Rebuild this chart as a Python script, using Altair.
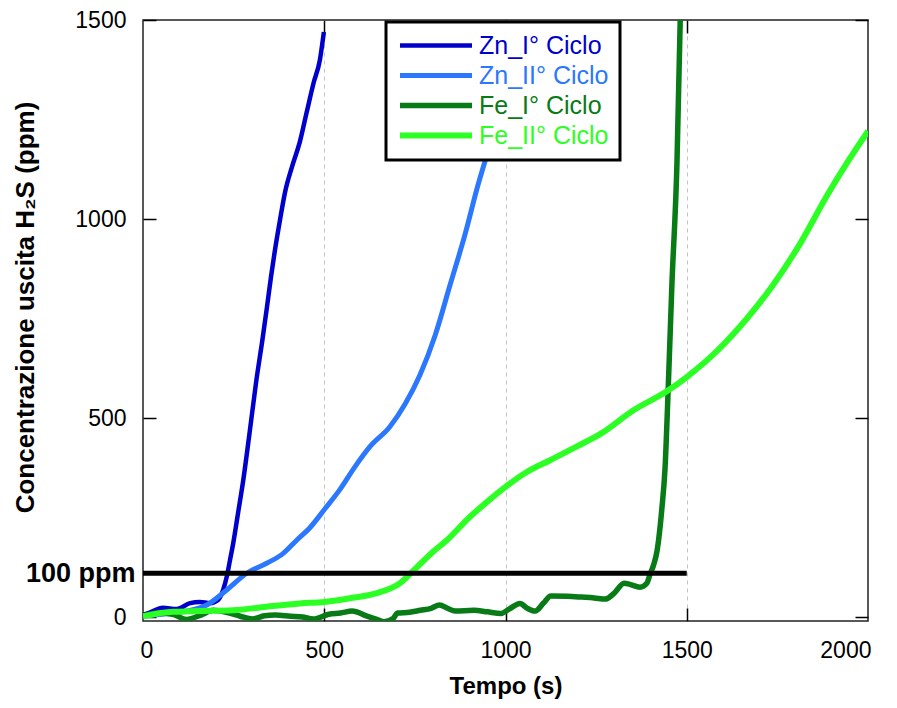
import altair as alt
import pandas as pd

# ---- data ----
series_names = ["Zn_I° Ciclo", "Zn_II° Ciclo", "Fe_I° Ciclo", "Fe_II° Ciclo"]
series_colors = ["#0000CC", "#2B78FF", "#087A16", "#2CFF24"]
series_widths = [4.5, 6, 4.5, 6]

zn1_t = [0, 20, 55, 93, 130, 157, 185, 207, 221, 231, 240, 249, 262, 276, 295, 312, 330, 342, 353, 364, 378, 392, 411, 433, 452, 470, 488, 499]
zn1_v = [5, 12, 23, 20, 35, 38, 35, 43, 68, 101, 143, 186, 260, 340, 470, 590, 700, 779, 854, 922, 998, 1068, 1131, 1195, 1270, 1340, 1400, 1470]

zn2_t = [0, 65, 121, 176, 231, 286, 341, 387, 424, 461, 502, 543, 585, 626, 681, 723, 764, 806, 847, 888, 924, 962]
zn2_v = [3, 8, 15, 30, 68, 110, 135, 160, 193, 225, 272, 320, 378, 428, 478, 535, 608, 708, 834, 960, 1085, 1200]

fe1_t = [0, 47, 85, 120, 160, 194, 230, 268, 302, 335, 365, 407, 440, 470, 513, 545, 577, 618, 645, 665, 690, 702, 735, 765, 795, 818, 840, 861, 913, 950, 988, 1010, 1040, 1060, 1082, 1105, 1125, 1170, 1210, 1245, 1275, 1300, 1327, 1343, 1371, 1390, 1399, 1410, 1418, 1431, 1440, 1449, 1459, 1473, 1482]
fe1_v = [3, 11, 6, -6, 5, 17, 12, 2, -5, 3, 5, 2, 0, -5, 7, 10, 15, 2, -6, -12, -4, 10, 12, 17, 22, 30, 22, 15, 17, 13, 9, 20, 34, 22, 15, 35, 53, 52, 50, 48, 45, 60, 85, 82, 75, 85, 108, 135, 166, 269, 372, 578, 834, 1141, 1500]

fe2_t = [0, 83, 160, 248, 341, 433, 500, 571, 645, 709, 741, 800, 838, 900, 950, 1000, 1060, 1123, 1200, 1262, 1354, 1445, 1500, 1583, 1666, 1738, 1812, 1887, 1942, 2000]
fe2_v = [2, 13, 15, 17, 26, 34, 38, 47, 60, 85, 112, 164, 193, 250, 290, 327, 365, 394, 430, 460, 520, 567, 603, 668, 750, 834, 937, 1059, 1141, 1221]

threshold_value = 110
threshold_end = 1500
threshold_label = "100 ppm"

x_ticks = [0, 500, 1000, 1500, 2000]
y_ticks = [0, 500, 1000, 1500]
x_inner_ticks = [500, 1000, 1500]
y_inner_ticks = [0, 500, 1000, 1500]

x_title = "Tempo (s)"
y_title = "Concentrazione uscita H₂S (ppm)"

# ---- tables ----
frames = []
for name, tt, vv in zip(series_names, [zn1_t, zn2_t, fe1_t, fe2_t], [zn1_v, zn2_v, fe1_v, fe2_v]):
    frames.append(pd.DataFrame({"series": name, "t": tt, "v": vv}))
df = pd.concat(frames, ignore_index=True)
thr_df = pd.DataFrame({"x0": [0], "x1": [threshold_end], "v": [threshold_value]})

FONT = "Liberation Sans"
xs = alt.Scale(domain=[0, 2000], nice=False, zero=False)
ys = alt.Scale(domain=[-10, 1500], nice=False, zero=False)

lines = alt.Chart(df).mark_line(clip=True, interpolate="monotone").encode(
    x=alt.X("t:Q", scale=xs, axis=alt.Axis(
        orient="bottom", values=x_ticks, format="d", ticks=False, domain=False, grid=False,
        labelFontSize=23, labelPadding=18, labelFlush=True, labelFlushOffset=3, labelColor="black",
        title=x_title, titleFontSize=24, titleFontWeight="bold", titlePadding=12, titleColor="black")),
    y=alt.Y("v:Q", scale=ys, axis=alt.Axis(
        orient="left", values=y_ticks, format="d", ticks=False, domain=False, grid=False,
        labelFontSize=23, labelPadding=17, labelColor="black",
        title=y_title, titleFontSize=26, titleFontWeight="bold", titlePadding=36, titleColor="black",
        titleY=287)),
    color=alt.Color("series:N", scale=alt.Scale(domain=series_names, range=series_colors),
                    legend=alt.Legend(orient="none", legendX=243, legendY=2, title=None,
                                      symbolType="stroke", symbolSize=5184, symbolStrokeWidth=5,
                                      clipHeight=25,
                                      labelFontSize=25, labelFont=FONT, labelOffset=4,
                                      labelColor=alt.ExprRef("scale('color', datum.value)"),
                                      padding=11, rowPadding=4,
                                      fillColor="white", strokeColor="black")),
    strokeWidth=alt.StrokeWidth("series:N", scale=alt.Scale(domain=series_names, range=series_widths), legend=None),
)

rule = alt.Chart(thr_df).mark_rule(color="black", strokeWidth=5).encode(
    x=alt.X("x0:Q", scale=xs, axis=None),
    x2="x1:Q",
    y=alt.Y("v:Q", scale=ys, axis=alt.Axis(
        orient="left", values=[threshold_value], labelExpr=f"'{threshold_label}'",
        labelFontSize=27, labelFontWeight="bold", labelPadding=8, labelColor="black",
        ticks=False, domain=False, grid=False, title=None)),
)


def tick_layer(xorient, yorient, with_grid):
    return alt.Chart(df).mark_point(opacity=0).encode(
        x=alt.X("t:Q", scale=xs, axis=alt.Axis(
            orient=xorient, offset=-13, tickSize=13, values=x_inner_ticks, labels=False,
            domain=False, grid=with_grid, gridDash=[4, 4], gridColor="#c4c4c4", gridWidth=1,
            tickColor="black", tickWidth=1.5, title=None)),
        y=alt.Y("v:Q", scale=ys, axis=alt.Axis(
            orient=yorient, offset=-13, tickSize=13, values=y_inner_ticks, labels=False,
            domain=False, grid=False, tickColor="black", tickWidth=1.5, title=None)),
    )


chart = alt.layer(
    tick_layer("bottom", "left", True),
    tick_layer("top", "right", False),
    lines,
    rule,
).resolve_axis(x="independent", y="independent").properties(
    width=725, height=601,
    autosize=alt.AutoSizeParams(type="none"),
    padding={"left": 135, "top": 12, "right": 21, "bottom": 79},
).configure(font=FONT).configure_axis(
    labelFont=FONT, titleFont=FONT
).configure_legend(strokeWidth=3).configure_view(stroke="#222222", strokeWidth=1.5)

chart.save("out.html", embed_options={"renderer": "svg", "actions": False})
